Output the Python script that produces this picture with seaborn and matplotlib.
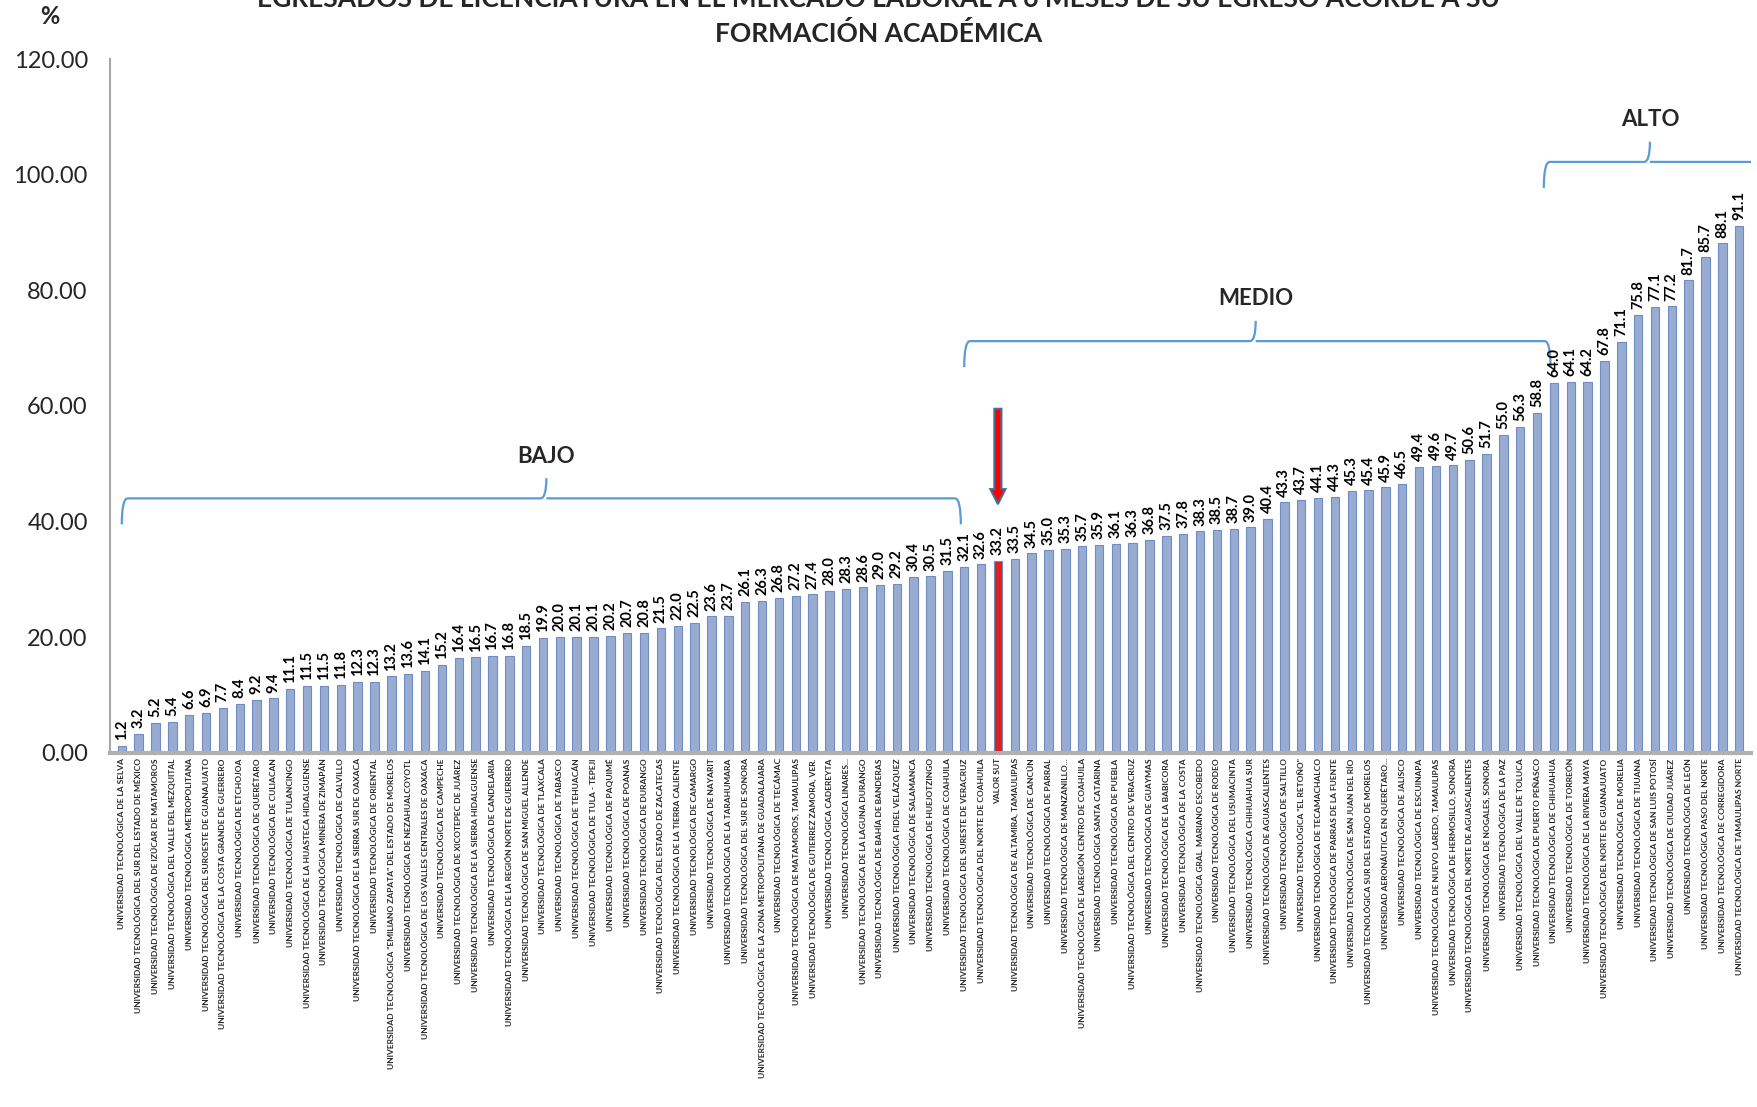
import pandas as pd
import seaborn as sns
import matplotlib.pyplot as plt
from matplotlib.patches import FancyArrow
from matplotlib.path import Path
from matplotlib.patches import PathPatch

# Universidades ordenadas de menor a mayor porcentaje
universidades = [
    "UNIVERSIDAD TECNOLÓGICA DE LA SELVA",
    "UNIVERSIDAD TECNOLÓGICA DEL SUR DEL ESTADO DE MÉXICO",
    "UNIVERSIDAD TECNOLÓGICA DE IZÚCAR DE MATAMOROS",
    "UNIVERSIDAD TECNOLÓGICA DEL VALLE DEL MEZQUITAL",
    "UNIVERSIDAD TECNOLÓGICA METROPOLITANA",
    "UNIVERSIDAD TECNOLÓGICA DEL SUROESTE DE GUANAJUATO",
    "UNIVERSIDAD TECNOLÓGICA DE LA COSTA GRANDE DE GUERRERO",
    "UNIVERSIDAD TECNOLÓGICA DE ETCHOJOA",
    "UNIVERSIDAD TECNOLÓGICA DE QUERÉTARO",
    "UNIVERSIDAD TECNOLÓGICA DE CULIACAN",
    "UNIVERSIDAD TECNOLÓGICA DE TULANCINGO",
    "UNIVERSIDAD TECNOLÓGICA DE LA HUASTECA HIDALGUENSE",
    "UNIVERSIDAD TECNOLÓGICA MINERA DE ZIMAPÁN",
    "UNIVERSIDAD TECNOLÓGICA DE CALVILLO",
    "UNIVERSIDAD TECNOLÓGICA DE LA SIERRA SUR DE OAXACA",
    "UNIVERSIDAD TECNOLÓGICA DE ORIENTAL",
    "UNIVERSIDAD TECNOLÓGICA \"EMILIANO ZAPATA\" DEL ESTADO DE MORELOS",
    "UNIVERSIDAD TECNOLÓGICA DE NEZAHUALCOYOTL",
    "UNIVERSIDAD TECNOLÓGICA DE LOS VALLES CENTRALES DE OAXACA",
    "UNIVERSIDAD TECNOLÓGICA DE CAMPECHE",
    "UNIVERSIDAD TECNOLÓGICA DE XICOTEPEC DE JUÁREZ",
    "UNIVERSIDAD TECNOLÓGICA DE LA SIERRA HIDALGUENSE",
    "UNIVERSIDAD TECNOLÓGICA DE CANDELARIA",
    "UNIVERSIDAD TECNOLÓGICA DE LA REGIÓN NORTE DE GUERRERO",
    "UNIVERSIDAD TECNOLÓGICA DE SAN MIGUEL ALLENDE",
    "UNIVERSIDAD TECNOLÓGICA DE TLAXCALA",
    "UNIVERSIDAD TECNOLÓGICA DE TABASCO",
    "UNIVERSIDAD TECNOLÓGICA DE TEHUACÁN",
    "UNIVERSIDAD TECNOLÓGICA DE TULA - TEPEJI",
    "UNIVERSIDAD TECNOLÓGICA DE PAQUIMÉ",
    "UNIVERSIDAD TECNOLÓGICA DE POANAS",
    "UNIVERSIDAD TECNOLÓGICA DE DURANGO",
    "UNIVERSIDAD TECNOLÓGICA DEL ESTADO DE ZACATECAS",
    "UNIVERSIDAD TECNOLÓGICA DE LA TIERRA CALIENTE",
    "UNIVERSIDAD TECNOLÓGICA DE CAMARGO",
    "UNIVERSIDAD TECNOLÓGICA DE NAYARIT",
    "UNIVERSIDAD TECNOLÓGICA DE LA TARAHUMARA",
    "UNIVERSIDAD TECNOLÓGICA DEL SUR DE SONORA",
    "UNIVERSIDAD TECNOLÓGICA DE LA ZONA METROPOLITANA DE GUADALAJARA",
    "UNIVERSIDAD TECNOLÓGICA DE TECÁMAC",
    "UNIVERSIDAD TECNOLÓGICA DE MATAMOROS, TAMAULIPAS",
    "UNIVERSIDAD TECNOLÓGICA DE GUTIERREZ ZAMORA, VER.",
    "UNIVERSIDAD TECNOLÓGICA CADEREYTA",
    "UNIVERSIDAD TECNOLÓGICA LINARES...",
    "UNIVERSIDAD TECNOLÓGICA DE LA LAGUNA DURANGO",
    "UNIVERSIDAD TECNOLÓGICA DE BAHÍA DE BANDERAS",
    "UNIVERSIDAD TECNOLÓGICA FIDEL VELÁZQUEZ",
    "UNIVERSIDAD TECNOLÓGICA DE SALAMANCA",
    "UNIVERSIDAD TECNOLÓGICA DE HUEJOTZINGO",
    "UNIVERSIDAD TECNOLÓGICA DE COAHUILA",
    "UNIVERSIDAD TECNOLÓGICA DEL SURESTE DE VERACRUZ",
    "UNIVERSIDAD TECNOLÓGICA DEL NORTE DE COAHUILA",
    "VALOR SUT",
    "UNIVERSIDAD TECNOLÓGICA DE ALTAMIRA, TAMAULIPAS",
    "UNIVERSIDAD TECNOLÓGICA DE CANCÚN",
    "UNIVERSIDAD TECNOLÓGICA DE PARRAL",
    "UNIVERSIDAD TECNOLÓGICA DE MANZANILLO...",
    "UNIVERSIDAD TECNOLÓGICA DE LAREGIÓN CENTRO DE COAHUILA",
    "UNIVERSIDAD TECNOLÓGICA SANTA CATARINA",
    "UNIVERSIDAD TECNOLÓGICA DE PUEBLA",
    "UNIVERSIDAD TECNOLÓGICA DEL CENTRO DE VERACRUZ",
    "UNIVERSIDAD TECNOLÓGICA DE GUAYMAS",
    "UNIVERSIDAD TECNOLÓGICA DE LA BABICORA",
    "UNIVERSIDAD TECNOLÓGICA DE LA COSTA",
    "UNIVERSIDAD TECNOLÓGICA GRAL. MARIANO ESCOBEDO",
    "UNIVERSIDAD TECNOLÓGICA DE RODEO",
    "UNIVERSIDAD TECNOLÓGICA DEL USUMACINTA",
    "UNIVERSIDAD TECNOLÓGICA CHIHUAHUA SUR",
    "UNIVERSIDAD TECNOLÓGICA DE AGUASCALIENTES",
    "UNIVERSIDAD TECNOLÓGICA DE SALTILLO",
    "UNIVERSIDAD TECNOLÓGICA \"EL RETOÑO\"",
    "UNIVERSIDAD TECNOLÓGICA DE TECAMACHALCO",
    "UNIVERSIDAD TECNOLÓGICA DE PARRAS DE LA FUENTE",
    "UNIVERSIDAD TECNOLÓGICA DE SAN JUAN DEL RÍO",
    "UNIVERSIDAD TECNOLÓGICA SUR DEL ESTADO DE MORELOS",
    "UNIVERSIDAD AERONÁUTICA EN QUERÉTARO...",
    "UNIVERSIDAD TECNOLÓGICA DE JALISCO",
    "UNIVERSIDAD TECNOLÓGICA DE ESCUINAPA",
    "UNIVERSIDAD TECNOLÓGICA DE NUEVO LAREDO, TAMAULIPAS",
    "UNIVERSIDAD TECNOLÓGICA DE HERMOSILLO, SONORA",
    "UNIVERSIDAD TECNOLÓGICA DEL NORTE DE AGUASCALIENTES",
    "UNIVERSIDAD TECNOLÓGICA DE NOGALES, SONORA",
    "UNIVERSIDAD TECNOLÓGICA DE LA PAZ",
    "UNIVERSIDAD TECNOLÓGICA DEL VALLE DE TOLUCA",
    "UNIVERSIDAD TECNOLÓGICA DE PUERTO PEÑASCO",
    "UNIVERSIDAD TECNOLÓGICA DE CHIHUAHUA",
    "UNIVERSIDAD TECNOLÓGICA DE TORREÓN",
    "UNIVERSIDAD TECNOLÓGICA DE LA RIVIERA MAYA",
    "UNIVERSIDAD TECNOLÓGICA DEL NORTE DE GUANAJUATO",
    "UNIVERSIDAD TECNOLÓGICA DE MORELIA",
    "UNIVERSIDAD TECNOLÓGICA DE TIJUANA",
    "UNIVERSIDAD TECNOLÓGICA DE SAN LUIS POTOSÍ",
    "UNIVERSIDAD TECNOLÓGICA DE CIUDAD JUÁREZ",
    "UNIVERSIDAD TECNOLÓGICA DE LEÓN",
    "UNIVERSIDAD TECNOLÓGICA PASO DEL NORTE",
    "UNIVERSIDAD TECNOLÓGICA DE CORREGIDORA",
    "UNIVERSIDAD TECNOLÓGICA DE TAMAULIPAS NORTE",
]

porcentajes = [
    1.2, 3.2, 5.2, 5.4, 6.6, 6.9, 7.7, 8.4, 9.2, 9.4,
    11.1, 11.5, 11.5, 11.8, 12.3, 12.3, 13.2, 13.6, 14.1, 15.2,
    16.4, 16.5, 16.7, 16.8, 18.5, 19.9, 20.0, 20.1, 20.1, 20.2,
    20.7, 20.8, 21.5, 22.0, 22.5, 23.6, 23.7, 26.1, 26.3, 26.8,
    27.2, 27.4, 28.0, 28.3, 28.6, 29.0, 29.2, 30.4, 30.5, 31.5,
    32.1, 32.6, 33.2, 33.5, 34.5, 35.0, 35.3, 35.7, 35.9, 36.1,
    36.3, 36.8, 37.5, 37.8, 38.3, 38.5, 38.7, 39.0, 40.4, 43.3,
    43.7, 44.1, 44.3, 45.3, 45.4, 45.9, 46.5, 49.4, 49.6, 49.7,
    50.6, 51.7, 55.0, 56.3, 58.8, 64.0, 64.1, 64.2, 67.8, 71.1,
    75.8, 77.1, 77.2, 81.7, 85.7, 88.1, 91.1,
]

# Grupos: nombre, primera barra, ultima barra, posicion de la marca central
grupos = ["BAJO", "MEDIO", "ALTO"]
grupo_inicio = [0, 50, 84.4]
grupo_fin = [49.8, 84.8, 97.5]
grupo_centro = [25.2, 67.3, 90.7]
grupo_altura = [44.0, 71.2, 102.2]

df = pd.DataFrame({"universidad": universidades, "porcentaje": porcentajes})
df["tipo"] = ["SUT" if u == "VALOR SUT" else "UT" for u in df["universidad"]]

sns.set_style("white")
plt.rcParams["font.family"] = ["Lato", "DejaVu Sans"]

fig = plt.figure(figsize=(17.57, 11.07), dpi=100)
ax = fig.add_axes([0.0626, 0.320, 0.934, 0.6267])

sns.barplot(data=df, x="universidad", y="porcentaje", hue="tipo",
            palette={"UT": "#8EA9DB", "SUT": "#FF0000"}, dodge=False,
            legend=False, width=0.5, edgecolor="#6F8CC4", linewidth=0.8, ax=ax)

for patch in ax.patches:
    if patch.get_facecolor()[0] > 0.9 and patch.get_facecolor()[1] < 0.1:
        patch.set_edgecolor("#FF0000")

# Etiquetas de valor
for i, v in enumerate(porcentajes):
    ax.text(i, v + 1.0, f"{v:.1f}", rotation=90, ha="center", va="bottom",
            fontsize=10.5, fontweight="bold", color="black")

ax.set_xlim(-0.7, 96.7)
ax.set_ylim(0, 120)
ax.set_yticks([0, 20, 40, 60, 80, 100, 120])
ax.set_yticklabels([f"{t:.2f}" for t in [0, 20, 40, 60, 80, 100, 120]], fontsize=17)
ax.tick_params(axis="y", length=0, pad=16)
ax.tick_params(axis="x", length=0, pad=4)
ax.set_xticks(range(len(universidades)))
ax.set_xticklabels(universidades, rotation=90, fontsize=6, fontweight="bold")
ax.set_xlabel("")
ax.set_ylabel("")

for s in ["top", "right"]:
    ax.spines[s].set_visible(False)
ax.spines["left"].set_color("#A6A6A6")
ax.spines["left"].set_linewidth(1.5)
ax.spines["bottom"].set_color("#B0B0B0")
ax.spines["bottom"].set_linewidth(3)


# Llaves de agrupacion
def llave(x0, x1, xm, y, ax):
    drop = 4.5
    r = 0.35
    tick = 3.5
    verts = [(x0, y - drop), (x0, y), (x0 + r, y), (xm - r, y), (xm, y), (xm, y + tick),
             (xm, y), (xm + r, y), (x1 - r, y), (x1, y), (x1, y - drop)]
    codes = [Path.MOVETO, Path.CURVE3, Path.CURVE3, Path.LINETO, Path.CURVE3, Path.CURVE3,
             Path.MOVETO, Path.CURVE3, Path.LINETO, Path.CURVE3, Path.CURVE3]
    ax.add_patch(PathPatch(Path(verts, codes), fill=False, edgecolor="#5B9BD5", lw=1.6))


for nombre, x0, x1, xm, y in zip(grupos, grupo_inicio, grupo_fin, grupo_centro, grupo_altura):
    llave(x0, x1, xm, y, ax)
    ax.text(xm, y + 5.5, nombre, ha="center", va="bottom", fontsize=16, fontweight="bold")

# Flecha al valor SUT
sut = universidades.index("VALOR SUT")
ax.add_patch(FancyArrow(sut, 59.5, 0, -16.5, width=0.42, head_width=0.9, head_length=2.6,
                        length_includes_head=True, fc="#FF0000", ec="#41719C", lw=1.5))

fig.text(0.5, 0.9937, "EGRESADOS DE LICENCIATURA EN EL MERCADO LABORAL A 6 MESES DE SU EGRESO ACORDE A SU",
         ha="center", va="baseline", fontsize=19, fontweight="bold")
fig.text(0.5, 0.9625, "FORMACIÓN ACADÉMICA", ha="center", va="baseline", fontsize=19, fontweight="bold")
fig.text(0.0285, 0.978, "%", ha="center", va="baseline", fontsize=17, fontweight="bold")

plt.savefig("out.png", dpi=100)
